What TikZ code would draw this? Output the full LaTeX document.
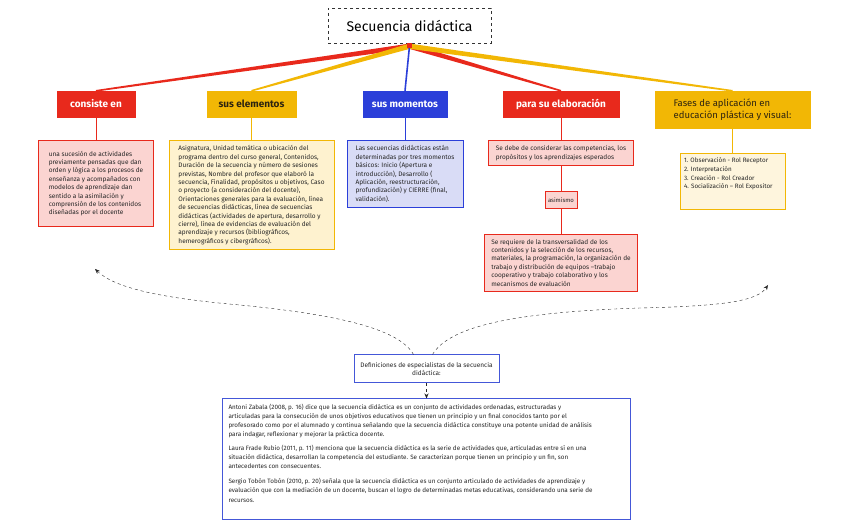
\documentclass[tikz,border=0pt]{standalone}
\usepackage{fontspec}
\setmainfont{Fira Sans}
\usetikzlibrary{arrows.meta, positioning, calc}

\definecolor{hred}{HTML}{E8291C}
\definecolor{hyel}{HTML}{F2B705}
\definecolor{hblue}{HTML}{2B3FD9}
\definecolor{bred}{HTML}{FBD4D1}
\definecolor{byel}{HTML}{FEF2CF}
\definecolor{byel2}{HTML}{FEF5DD}
\definecolor{bblue}{HTML}{D9DCF6}
\definecolor{defblue}{HTML}{4457D8}
\definecolor{ink}{HTML}{2E2410}

% tapered branch from the title hub to a header
\newcommand{\branch}[3]{%
  \fill[#3] ($(#1)!2.6pt!90:(#2)$) -- ($(#2)!0.8pt!-90:(#1)$)
    -- ($(#2)!0.8pt!90:(#1)$) -- ($(#1)!2.6pt!-90:(#2)$) -- cycle;}

\tikzset{
  titlebox/.style={rectangle, draw=black!80, dashed, fill=white, minimum width=163pt,
    minimum height=35pt, font=\fontsize{14}{16}\selectfont},
  head/.style={rectangle, minimum height=26pt, inner sep=3pt, text centered,
    font=\fontsize{10}{12}\selectfont\bfseries},
  hdred/.style={head, fill=hred, draw=hred, text=white},
  hdyel/.style={head, fill=hyel, draw=hyel, text=ink},
  hdblue/.style={head, fill=hblue, draw=hblue, text=white},
  body/.style={rectangle, align=left, inner xsep=4pt, inner ysep=5pt,
    font=\fontsize{6.5}{8.4}\selectfont, line width=0.8pt, text=black!85},
  bdred/.style={body, fill=bred, draw=hred},
  bdyel/.style={body, fill=byel, draw=hyel},
  bdblue/.style={body, fill=bblue, draw=hblue},
  defbox/.style={body, fill=white, draw=defblue, line width=1pt},
  stem/.style={line width=0.9pt},
  dasharr/.style={-{Stealth[length=5pt, width=4pt]}, dashed, thin, black!85},
}

\begin{document}
\begin{tikzpicture}[x=1pt, y=-1pt]
  \useasboundingbox (0,0) rectangle (849,526);

  % Title
  \node[titlebox] (title) at (409.5,25.5) {Secuencia didáctica};
  \coordinate (hub) at ($(title.south)+(0,3)$);

  % Headers
  \node[hdred, minimum width=78pt] (consiste) at (96,104) {consiste en};
  \node[hdyel, minimum width=89pt] (elementos) at (251.5,104) {sus elementos};
  \node[hdblue, minimum width=84pt] (momentos) at (405,104) {sus momentos};
  \node[hdred, minimum width=116pt] (elaboracion) at (561,104) {para su elaboración};
  \node[hdyel, minimum width=155pt, minimum height=37pt, align=left,
    font=\fontsize{9.5}{12.5}\selectfont] (fases) at (732.5,109.5)
    {Fases de aplicación en\\educación plástica y visual:};

  % Branches
  \foreach \h/\c in {consiste/hred, elementos/hyel, elaboracion/hred, fases/hyel}
    \branch{hub}{\h.north}{\c};
  \draw[hblue, line width=1.6pt] (hub) -- (momentos.north);
  \fill[hred] ($(hub)+(-2.5,-3)$) rectangle ($(hub)+(2.5,2)$);

  % Bodies
  \node[bdred, below=23pt of consiste, minimum width=115pt, minimum height=86pt] (defi)
    {una sucesión de actividades\\previamente pensadas que dan\\orden y lógica a los procesos de\\
     enseñanza y acompañados con\\modelos de aprendizaje dan\\sentido a la asimilación y\\
     comprensión de los contenidos\\diseñadas por el docente};
  \node[bdyel, below=23pt of elementos, minimum width=165pt] (lista)
    {Asignatura, Unidad temática o ubicación del\\programa dentro del curso general, Contenidos,\\
     Duración de la secuencia y número de sesiones\\previstas, Nombre del profesor que elaboró la\\
     secuencia, Finalidad, propósitos u objetivos, Caso\\o proyecto (a consideración del docente),\\
     Orientaciones generales para la evaluación, línea\\de secuencias didácticas, línea de secuencias\\
     didácticas (actividades de apertura, desarrollo y\\cierre), línea de evidencias de evaluación del\\
     aprendizaje y recursos (bibliográficos,\\hemerográficos y cibergráficos).};
  \node[bdblue, below=23pt of momentos, minimum width=116pt] (tres)
    {Las secuencias didácticas están\\determinadas por tres momentos\\básicos: Inicio (Apertura e\\
     introducción), Desarrollo (\\Aplicación, reestructuración,\\profundización) y CIERRE (final,\\
     validación).};
  \node[bdred, below=23pt of elaboracion, minimum width=145pt] (considerar)
    {Se debe de considerar las competencias, los\\propósitos y los aprendizajes esperados};
  \node[bdred, below=25pt of considerar, inner sep=3pt, minimum height=17pt,
    font=\fontsize{6}{7}\selectfont] (asimismo) {asimismo};
  \node[bdred, below=25pt of asimismo, minimum width=153pt] (requiere)
    {Se requiere de la transversalidad de los\\contenidos y la selección de los recursos,\\
     materiales, la programación, la organización de\\trabajo y distribución de equipos –trabajo\\
     cooperativo y trabajo colaborativo y los\\mecanismos de evaluación};
  \node[bdyel, fill=byel2, below=25pt of fases, inner ysep=4pt] (fasesl)
    {\parbox[t][48pt][t]{97pt}{\fontsize{6.3}{8.7}\selectfont
     1. Observación - Rol Receptor\\2. Interpretación\\3. Creación - Rol Creador\\
     4. Socialización – Rol Expositor}};

  % Stems
  \draw[stem, hred] (consiste) -- (defi);
  \draw[stem, hyel] (elementos) -- (lista);
  \draw[stem, hblue] (momentos) -- (tres);
  \draw[stem, hred] (elaboracion) -- (considerar);
  \draw[stem, hred] (considerar) -- (asimismo);
  \draw[stem, hred] (asimismo) -- (requiere);
  \draw[stem, hyel] (fases) -- (fasesl);

  % Definitions
  \node[defbox, align=center, minimum width=145pt, minimum height=28pt] (especialistas)
    at (426.5,369) {Definiciones de especialistas de la secuencia\\didáctica:};
  \node[defbox, below=15pt of especialistas, inner xsep=6pt] (autores)
    {\parbox[t][110pt][t]{396pt}{\fontsize{6.3}{9.2}\selectfont
     Antoni Zabala (2008, p. 16) dice que la secuencia didáctica es un conjunto de actividades ordenadas, estructuradas y\\
     articuladas para la consecución de unos objetivos educativos que tienen un principio y un final conocidos tanto por el\\
     profesorado como por el alumnado y continua señalando que la secuencia didáctica constituye una potente unidad de análisis\\
     para indagar, reflexionar y mejorar la práctica docente.\\[4pt]
     Laura Frade Rubio (2011, p. 11) menciona que la secuencia didáctica es la serie de actividades que, articuladas entre sí en una\\
     situación didáctica, desarrollan la competencia del estudiante. Se caracterizan porque tienen un principio y un fin, son\\
     antecedentes con consecuentes.\\[6pt]
     Sergio Tobón Tobón (2010, p. 20) señala que la secuencia didáctica es un conjunto articulado de actividades de aprendizaje y\\
     evaluación que con la mediación de un docente, buscan el logro de determinadas metas educativas, considerando una serie de\\
     recursos.}};

  % Dashed links
  \coordinate (leftend) at (95,269);
  \coordinate (rightend) at (768,285);
  \draw[dasharr] ($(especialistas.north)+(-13,0)$) .. controls (398,327) and (330,314) .. (240,305)
    .. controls (160,298) and (115,288) .. (leftend);
  \draw[dasharr] ($(especialistas.north)+(6,0)$) .. controls (450,325) and (520,312) .. (640,308)
    .. controls (730,306) and (758,300) .. (rightend);
  \draw[dasharr] (especialistas) -- (autores);
\end{tikzpicture}
\end{document}
